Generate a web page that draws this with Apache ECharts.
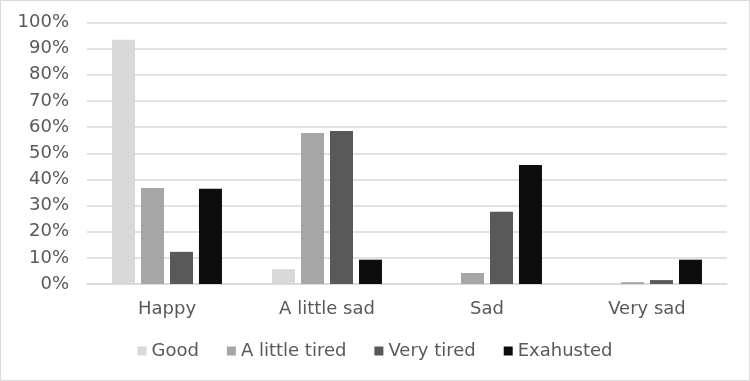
<!DOCTYPE html>
<html>
<head>
<meta charset="utf-8">
<script src="https://cdn.jsdelivr.net/npm/echarts@6/dist/echarts.min.js"></script>
<style>
html,body{margin:0;padding:0;background:#fff;}
#c{width:750px;height:381px;}
</style>
</head>
<body>
<div id="c"></div>
<script>
const categories = ['Happy', 'A little sad', 'Sad', 'Very sad'];
const seriesNames = ['Good', 'A little tired', 'Very tired', 'Exahusted'];
const good = [93.4, 5.7, 0, 0];
const littleTired = [36.7, 57.7, 4.2, 0.7];
const veryTired = [12.3, 58.5, 27.6, 1.5];
const exhausted = [36.4, 9.3, 45.5, 9.3];
const yTicks = [0, 10, 20, 30, 40, 50, 60, 70, 80, 90, 100];
const colors = ['#d9d9d9', '#a6a6a6', '#595959', '#0d0d0d'];

const values = [good, littleTired, veryTired, exhausted];
const font = 'DejaVu Sans, Verdana, sans-serif';
const chart = echarts.init(document.getElementById('c'), null, {renderer: 'canvas'});
chart.setOption({
  backgroundColor: '#ffffff',
  animation: false,
  textStyle: {fontFamily: font, color: '#595959'},
  graphic: [{
    type: 'rect',
    shape: {x: 0.5, y: 0.5, width: 749, height: 380},
    style: {fill: 'none', stroke: '#d9d9d9', lineWidth: 1},
    silent: true
  }],
  grid: {left: 87, right: 23, top: 22.5, bottom: 97, containLabel: false},
  legend: {
    data: seriesNames,
    left: 'center',
    top: 337,
    itemWidth: 9,
    itemHeight: 9,
    itemGap: 28,
    icon: 'rect',
    textStyle: {fontFamily: font, fontSize: 18, color: '#595959', padding: [0, 0, 0, 0]}
  },
  xAxis: {
    type: 'category',
    data: categories,
    axisLine: {lineStyle: {color: '#d9d9d9', width: 1.5}},
    axisTick: {show: false},
    axisLabel: {fontFamily: font, fontSize: 18, color: '#595959', margin: 16}
  },
  yAxis: {
    type: 'value',
    min: yTicks[0],
    max: yTicks[yTicks.length - 1],
    interval: 10,
    axisLine: {show: false},
    axisTick: {show: false},
    splitLine: {lineStyle: {color: '#d9d9d9', width: 1.5}},
    axisLabel: {fontFamily: font, fontSize: 18, color: '#595959', margin: 18, formatter: '{value}%'}
  },
  series: seriesNames.map((n, i) => ({
    name: n,
    type: 'bar',
    data: values[i],
    barWidth: 23,
    barGap: '26%',
    itemStyle: {color: colors[i]}
  }))
});
</script>
</body>
</html>
